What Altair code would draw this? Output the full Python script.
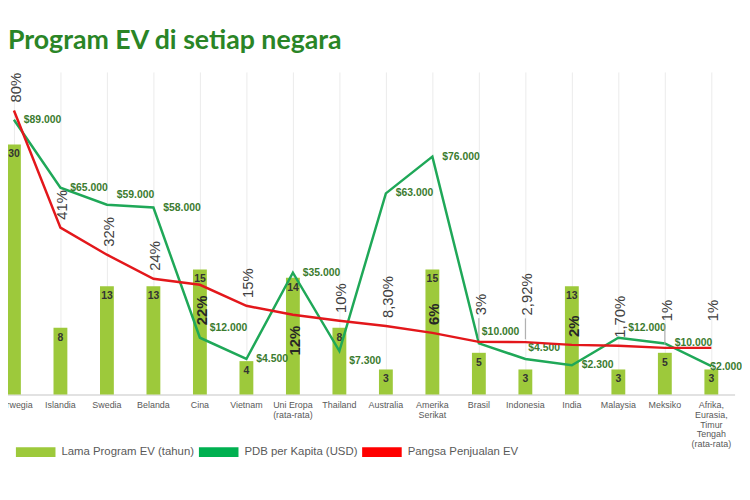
import altair as alt
import pandas as pd

# ---------------- data ----------------
countries = ["Norwegia", "Islandia", "Swedia", "Belanda", "Cina", "Vietnam",
             "Uni Eropa\n(rata-rata)", "Thailand", "Australia", "Amerika\nSerikat",
             "Brasil", "Indonesia", "India", "Malaysia", "Meksiko",
             "Afrika,\nEurasia,\nTimur\nTengah\n(rata-rata)"]
program_years = [30, 8, 13, 13, 15, 4, 14, 8, 3, 15, 5, 3, 13, 3, 5, 3]
pdb_per_capita = [89000, 65000, 59000, 58000, 12000, 4500, 35000, 7300,
                  63000, 76000, 10000, 4500, 2300, 12000, 10000, 2000]
ev_share = [80, 41, 32, 24, 22, 15, 12, 10, 8.30, 6, 3, 2.92, 2, 1.70, 1, 1]
series_names = ["Lama Program EV (tahun)", "PDB per Kapita (USD)", "Pangsa Penjualan EV"]


def share_text(v):
    if float(v).is_integer():
        return f"{int(v)}%"
    return f"{v:.2f}".replace(".", ",") + "%"


df = pd.DataFrame({
    "idx": list(range(len(countries))),
    "country": countries,
    "years": program_years,
    "pdb": pdb_per_capita,
    "share": ev_share,
    "pdb_label": [f"${v:,}".replace(",", ".") for v in pdb_per_capita],
    "share_label": [share_text(v) for v in ev_share],
})

# ---------------- styling ----------------
BAR = "#9dc93b"
GREEN_LINE = "#1fa858"
RED_LINE = "#e3171b"
LEG_GREEN = "#00b050"
LEG_RED = "#ff0000"
GREEN_TXT = "#3b7b2f"
SANS = "Liberation Sans, Arial, sans-serif"

X = alt.X(
    "country:N", sort=countries, title=None,
    scale=alt.Scale(range=[-23.5, 728.5], paddingInner=0, paddingOuter=0),
    axis=alt.Axis(labelExpr="split(datum.label, '\\n')", labelAngle=0,
                  labelFont=SANS, labelFontSize=9, labelColor="#595959",
                  labelLineHeight=10, labelPadding=6, labelBaseline="top",
                  ticks=False, domainColor="#d9d9d9", domainWidth=1.5,
                  grid=True, gridColor="#ebebeb", gridWidth=1, bandPosition=0.5),
)
ORDER = alt.Order("idx:Q")

ybar = alt.Scale(domain=[0, 38.7], nice=False, zero=False)
ypdb = alt.Scale(domain=[-8040, 105900], nice=False, zero=False)
yshare = alt.Scale(domain=[-14.5, 92.8], nice=False, zero=False)

Ybar = alt.Y("years:Q", scale=ybar, axis=None)
Ypdb = alt.Y("pdb:Q", scale=ypdb, axis=None)
Yshare = alt.Y("share:Q", scale=yshare, axis=None)

base = alt.Chart(df)

# bars
bars = base.mark_bar(size=14, color=BAR).encode(x=X, y=Ybar)
bar_text = base.mark_text(baseline="middle", dy=10, fontSize=10.5, fontWeight="bold",
                          color="#333333", font=SANS).encode(x=X, y=Ybar, text="years:Q")
bar_layer = alt.layer(bars, bar_text)

# PDB line and labels
pdb_line = base.mark_line(color=GREEN_LINE, strokeWidth=2.5).encode(x=X, y=Ypdb, order=ORDER)
pdb_place = {
    "above": (["Swedia", "Cina", "Malaysia"], 10, -10),
    "above_near": (["Brasil", "Indonesia"], 3, -11),
    "below": (["Thailand"], 10, 10),
    "on": ([countries[-1]], -1, 1),
}
special = [c for v in pdb_place.values() for c in v[0]]
pdb_texts = [base.mark_text(align="left", baseline="middle", dx=10, dy=0, fontSize=10.5,
                            fontWeight="bold", color=GREEN_TXT, font=SANS)
             .encode(x=X, y=Ypdb, text="pdb_label:N")
             .transform_filter(~alt.FieldOneOfPredicate(field="country", oneOf=special))]
for names, dx, dy in pdb_place.values():
    pdb_texts.append(
        base.mark_text(align="left", baseline="middle", dx=dx, dy=dy, fontSize=10.5,
                       fontWeight="bold", color=GREEN_TXT, font=SANS)
        .encode(x=X, y=Ypdb, text="pdb_label:N")
        .transform_filter(alt.FieldOneOfPredicate(field="country", oneOf=names)))
pdb_layer = alt.layer(pdb_line, *pdb_texts)

# EV share line and labels
share_line = base.mark_line(color=RED_LINE, strokeWidth=2.5).encode(x=X, y=Yshare, order=ORDER)
bold_above = ["Amerika\nSerikat", "India"]
below = ["Cina", "Uni Eropa\n(rata-rata)"]
far = ["Brasil", "Indonesia", "Meksiko", countries[-1]]
plain = [c for c in countries if c not in bold_above + below + far]


def share_text_layer(names, align, dx, weight, color):
    return (base.mark_text(angle=270, align=align, baseline="middle", dx=dx, dy=2,
                           fontSize=15, font=SANS, fontWeight=weight, color=color)
            .encode(x=X, y=Yshare, text="share_label:N")
            .transform_filter(alt.FieldOneOfPredicate(field="country", oneOf=names)))


share_leaders = (base.mark_rule(color="#a6a6a6", strokeWidth=1, yOffset=-3, y2Offset=-24)
                 .encode(x=X, y=Yshare, y2="share:Q")
                 .transform_filter(alt.FieldOneOfPredicate(field="country", oneOf=far[:3])))
share_layer = alt.layer(
    share_line, share_leaders,
    share_text_layer(plain, "left", 8, "normal", "#404040"),
    share_text_layer(far, "left", 27, "normal", "#404040"),
    share_text_layer(bold_above, "left", 8, "bold", "#262626"),
    share_text_layer(below, "right", -11, "bold", "#262626"),
)

# legend carrier
legend_layer = alt.Chart(pd.DataFrame({"series": series_names})).mark_square(opacity=0).encode(
    color=alt.Color("series:N",
                    scale=alt.Scale(domain=series_names, range=[BAR, LEG_GREEN, LEG_RED]),
                    legend=alt.Legend(orient="none", legendX=2, legendY=364, direction="horizontal",
                                      columns=3, title=None,
                                      symbolType="M-1,-0.25L1,-0.25L1,0.25L-1,0.25Z",
                                      symbolSize=1600, symbolStrokeWidth=0, symbolOpacity=1,
                                      labelFont=SANS, labelFontSize=11.5, labelColor="#595959",
                                      labelOffset=6, columnPadding=4))
)

chart = (
    alt.layer(bar_layer, pdb_layer, share_layer, legend_layer)
    .resolve_scale(y="independent")
    .properties(
        width=705, height=326,
        autosize=alt.AutoSizeParams(type="none"),
        padding={"left": 6, "top": 62, "right": 31, "bottom": 104},
        background="white",
        title=alt.TitleParams("Program EV di setiap negara", anchor="start", frame="group",
                              dx=-6, offset=17, font="Lato",
                              fontSize=27, fontWeight="bold", color="#2a8526"),
    )
    .configure_view(stroke=None)
)

chart.save("out.html", embed_options={"renderer": "svg", "actions": False})
